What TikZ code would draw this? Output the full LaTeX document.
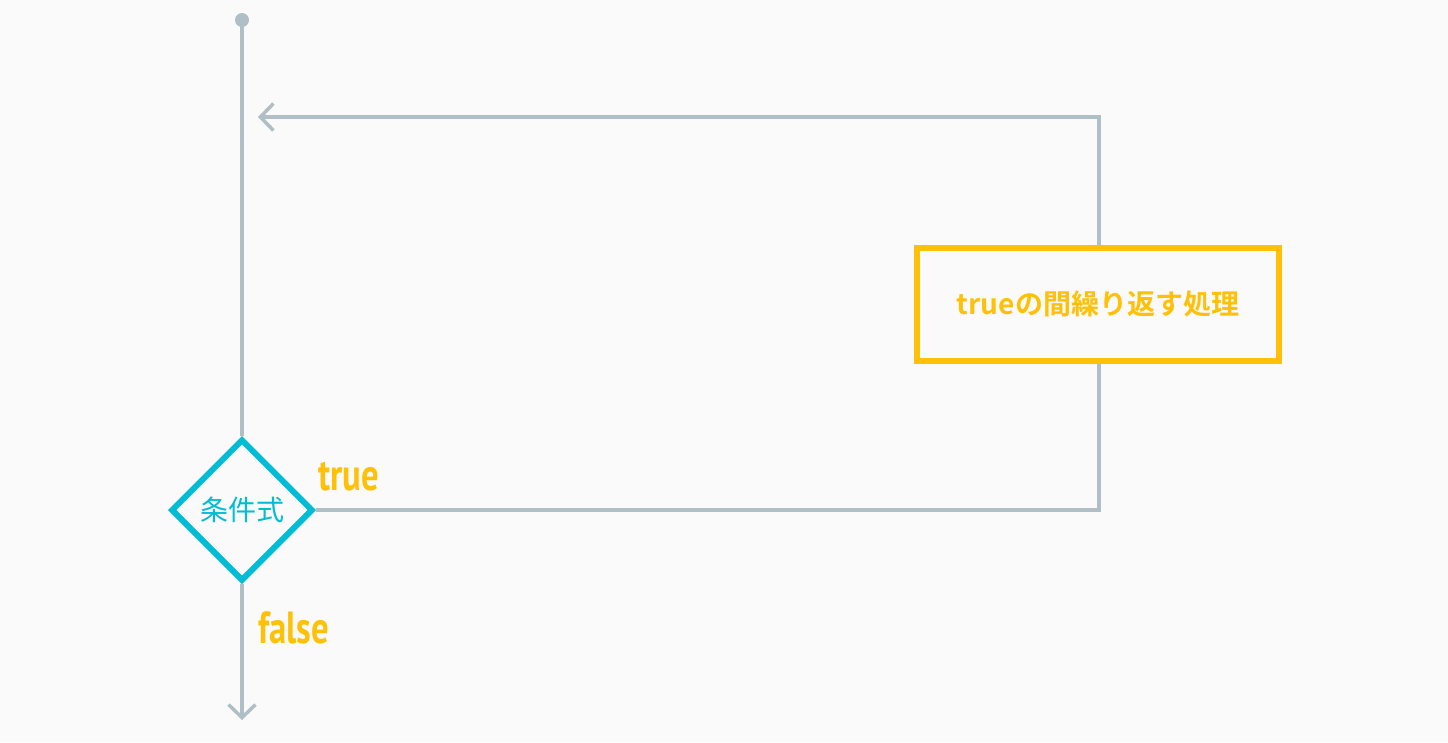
\documentclass[tikz,border=0pt]{standalone}
\usepackage{fontspec}
\setmainfont{PT Sans}
\newfontfamily\cjk{Noto Sans CJK JP}
\newfontfamily\cjkb{Noto Sans CJK JP}[BoldFont={* Bold}]
\usetikzlibrary{shapes.geometric,arrows.meta}
\definecolor{bg}{RGB}{250,250,250}
\definecolor{lineg}{RGB}{176,190,197}
\definecolor{cyanc}{RGB}{0,188,212}
\definecolor{yell}{RGB}{255,193,7}
\tikzset{
  conn/.style={draw=lineg,line width=3.5pt},
  tip/.style={-{Straight Barb[length=13pt,width=27pt]}},
  decision/.style={diamond,draw=cyanc,line width=6pt,inner sep=0pt,minimum width=142pt,minimum height=142pt,text=cyanc,font=\cjk\fontsize{28}{30}\selectfont},
  procbox/.style={rectangle,draw=yell,line width=6pt,inner sep=0pt,minimum width=362pt,minimum height=113pt,text=yell,font=\cjkb\bfseries\fontsize{28}{30}\selectfont},
  branchlbl/.style={text=yell,anchor=base west,inner sep=0pt,font=\bfseries\fontsize{45}{48}\selectfont}
}
\begin{document}
\begin{tikzpicture}[x=1pt,y=-1pt]
\useasboundingbox[fill=bg] (0,0) rectangle (1448,742);
\coordinate (start) at (242,20);
\coordinate (ret) at (258,117);
\coordinate (topcorner) at (1099,117);
\coordinate (botcorner) at (1099,510);
\coordinate (endp) at (242,720);
\node[decision] (cond) at (242,510) {条件式};
\node[procbox] (proc) at (1098,304) {true{\cjkb\bfseries の間繰り返す処理}};
\draw[conn] (start) -- (cond.north);
\fill[lineg] (start) circle (7);
\draw[conn] (cond.east) -- (botcorner) -- (proc.south -| botcorner);
\draw[conn,tip] (proc.north -| topcorner) -- (topcorner) -- (ret);
\draw[conn,tip] (cond.south) -- (endp);
\node[branchlbl] (truel) at (318,490) {\scalebox{0.77}[1]{true}};
\node[branchlbl] (falsel) at (258,643) {\scalebox{0.77}[1]{false}};
\end{tikzpicture}
\end{document}
